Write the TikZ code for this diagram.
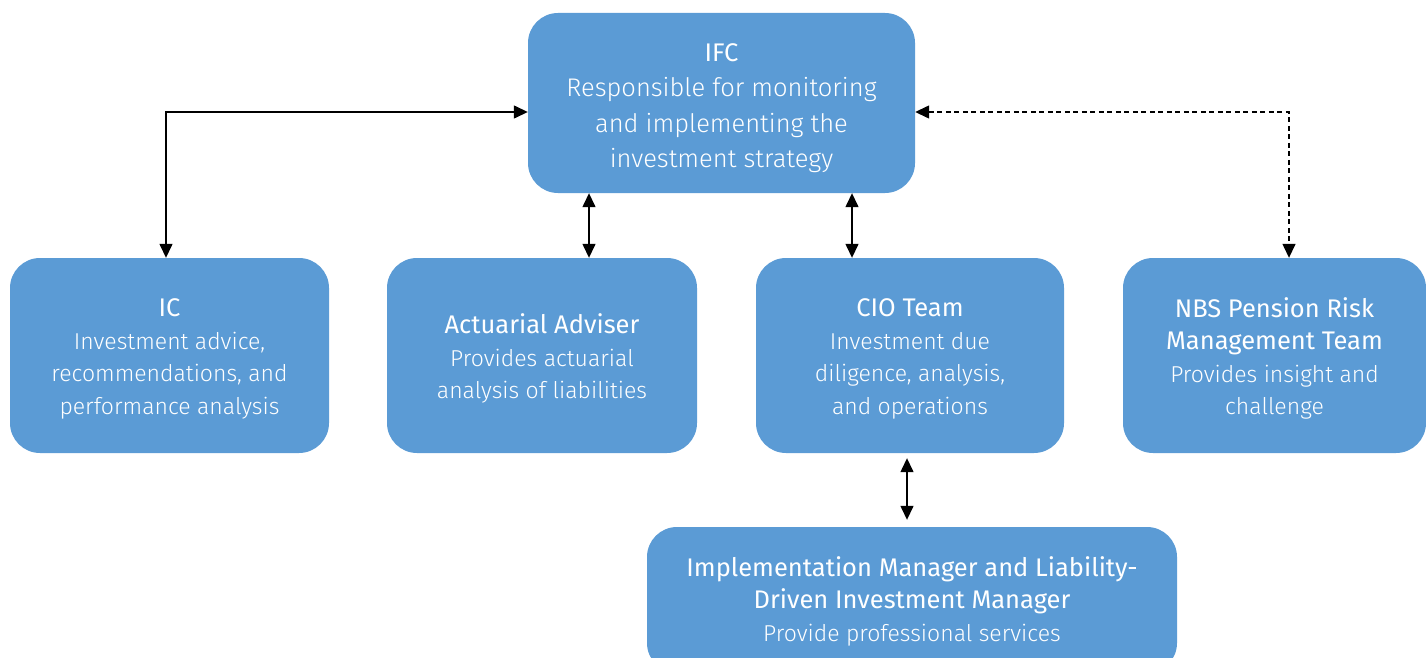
\documentclass[tikz,border=0pt]{standalone}
\usepackage{fontspec}
\setmainfont{Fira Sans Light}
\newfontfamily\titlefont{Fira Sans}
\usetikzlibrary{arrows.meta}
\definecolor{boxblue}{HTML}{5B9BD5}
\tikzset{
  unit/.style={x=1pt,y=-1pt},
  orgbox/.style={rectangle, rounded corners=30pt, fill=boxblue, draw=none, inner sep=0pt},
  boxtext/.style={text=white, align=center, inner sep=0pt, font=\fontsize{23}{32.5}\selectfont},
  bigbody/.style={font=\fontsize{25.5}{35.5}\selectfont},
  dbl/.style={line width=1.4pt, {Triangle[length=14pt,width=13pt]}-{Triangle[length=14pt,width=13pt]}},
  dashlink/.style={dbl, dash pattern=on 5pt off 3.5pt},
}
\newcommand{\ttl}[1]{{\titlefont\fontsize{25.5}{35}\selectfont #1}}
\begin{document}
\begin{tikzpicture}[unit]
\useasboundingbox (0,0) rectangle (1426,658);
\begin{scope}
\clip (0,0) rectangle (1426,658);
% boxes
\node[orgbox, minimum width=387pt, minimum height=180pt] (ifc) at (721.5,103) {};
\node[orgbox, minimum width=319pt, minimum height=195pt] (ic) at (169.5,355.5) {};
\node[orgbox, minimum width=310pt, minimum height=195pt] (act) at (542,355.5) {};
\node[orgbox, minimum width=308pt, minimum height=195pt] (cio) at (910,355.5) {};
\node[orgbox, minimum width=303pt, minimum height=195pt] (nbs) at (1274.5,355.5) {};
\node[orgbox, minimum width=530pt, minimum height=146pt] (imp) at (912,600) {};
% box texts
\node[boxtext, bigbody] (ifctxt) at ([yshift=-5pt]ifc.center)
  {\ttl{IFC}\\Responsible for monitoring\\and implementing the\\investment strategy};
\node[boxtext] (ictxt) at ([yshift=-3.5pt]ic.center)
  {\ttl{IC}\\Investment advice,\\recommendations, and\\performance analysis};
\node[boxtext] (acttxt) at ([yshift=-3pt]act.center)
  {\ttl{Actuarial Adviser}\\Provides actuarial\\analysis of liabilities};
\node[boxtext] (ciotxt) at ([yshift=-3.5pt]cio.center)
  {\ttl{CIO Team}\\Investment due\\diligence, analysis,\\and operations};
\node[boxtext] (nbstxt) at ([yshift=-3pt]nbs.center)
  {\ttl{NBS Pension Risk}\\\ttl{Management Team}\\Provides insight and\\challenge};
\node[boxtext] (imptxt) at ([yshift=-1pt]imp.center)
  {\ttl{Implementation Manager and Liability-}\\\ttl{Driven Investment Manager}\\Provide professional services};
\end{scope}
% connectors
\draw[dbl] ([yshift=-9pt]ifc.west) -| ([xshift=-3.5pt]ic.north);
\draw[dbl] ([xshift=47pt]act.north |- ifc.south) -- ([xshift=47pt]act.north);
\draw[dbl] ([xshift=-58pt]cio.north |- ifc.south) -- ([xshift=-58pt]cio.north);
\draw[dashlink] ([yshift=-9pt]ifc.east) -| ([xshift=14.5pt]nbs.north);
\draw[dbl, shorten <=5pt, shorten >=7pt] ([xshift=-3pt]cio.south) -- ([xshift=-3pt]cio.south |- imp.north);
\end{tikzpicture}
\end{document}
